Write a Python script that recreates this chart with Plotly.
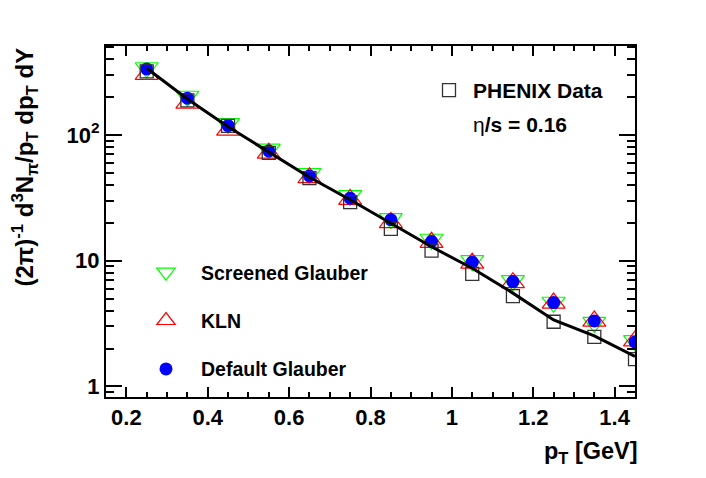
import plotly.graph_objects as go

# ---------------- data ----------------
pt = [0.25, 0.35, 0.45, 0.55, 0.65, 0.75, 0.85, 0.95, 1.05, 1.15, 1.25, 1.35, 1.45]
phenix = [320, 188, 118, 72, 45.3, 29.2, 17.9, 12.0, 7.85, 5.22, 3.27, 2.48, 1.65]
default_glauber = [335, 196, 118.6, 74.6, 47.2, 31.4, 21.2, 14.2, 9.73, 6.82, 4.64, 3.32, 2.26]
kln = [303, 179, 109, 71.6, 45.7, 30.7, 20.1, 14.0, 9.55, 6.68, 4.60, 3.31, 2.30]
screened = [342, 203, 123, 77, 49.2, 32.9, 21.6, 14.8, 10.0, 6.93, 4.67, 3.23, 2.31]
hydro_line = [339, 193, 116, 73.6, 46.1, 30.5, 19.9, 12.9, 8.7, 5.52, 3.38, 2.52, 1.73]

y_tickvals = [1, 10, 100]
y_ticktext = ["1", "10", "10<sup>2</sup>"]
x_tickvals = [0.2, 0.4, 0.6, 0.8, 1.0, 1.2, 1.4]
x_ticktext = ["0.2", "0.4", "0.6", "0.8", "1", "1.2", "1.4"]

W, H = 706, 478
L, R, T, B = 106, 71, 46, 81
PW, PH = W - L - R, H - T - B
FONT = "Liberation Sans, Arial, Helvetica, sans-serif"


def px(xp):
    return (xp - L) / PW


def py(yp):
    return 1 - (yp - T) / PH


fig = go.Figure()

fig.add_trace(go.Scatter(
    x=pt, y=screened, mode="markers", name="Screened Glauber",
    marker=dict(symbol="triangle-down-open", size=20, color="#00ff00",
                line=dict(width=1.2, color="#00ff00")),
    legend="legend2", legendgroup="g1"))
fig.add_trace(go.Scatter(
    x=pt, y=kln, mode="markers", name="KLN",
    marker=dict(symbol="triangle-up-open", size=20, color="#ff0000",
                line=dict(width=1.2, color="#ff0000")),
    legend="legend2", legendgroup="g2"))
fig.add_trace(go.Scatter(
    x=pt, y=default_glauber, mode="markers", name="Default Glauber",
    marker=dict(symbol="circle", size=13, color="#0000ff",
                line=dict(width=0)),
    legend="legend2", legendgroup="g3"))
fig.add_trace(go.Scatter(
    x=pt, y=phenix, mode="markers", name="PHENIX Data",
    marker=dict(symbol="square-open", size=13, color="#333333",
                line=dict(width=1.3, color="#333333")),
    legend="legend"))
fig.add_trace(go.Scatter(
    x=pt, y=hydro_line, mode="lines", showlegend=False,
    line=dict(color="black", width=3)))

axis_common = dict(
    showline=True, linecolor="black", linewidth=2, mirror="allticks",
    ticks="inside", tickcolor="black", tickwidth=2,
    showgrid=False, zeroline=False,
    tickfont=dict(family=FONT, size=22, color="black", weight="bold"),
)

fig.update_xaxes(
    range=[0.15, 1.45], tickvals=x_tickvals, ticktext=x_ticktext, ticklen=10,
    minor=dict(ticks="inside", ticklen=5, dtick=0.05, tick0=0.2,
               tickcolor="black", tickwidth=2, showgrid=False),
    **axis_common)
fig.update_yaxes(
    type="log", range=[-0.084, 2.707], tickvals=y_tickvals, ticktext=y_ticktext,
    ticklen=16,
    minor=dict(ticks="inside", ticklen=8, dtick="D1",
               tickcolor="black", tickwidth=2, showgrid=False),
    **axis_common)

fig.update_layout(
    width=W, height=H,
    margin=dict(l=L, r=R, t=T, b=B, autoexpand=False),
    paper_bgcolor="white", plot_bgcolor="white",
    showlegend=True,
    legend=dict(x=px(425), y=py(70), xanchor="left", yanchor="top",
                font=dict(family=FONT, size=21, color="black", weight="bold"),
                bgcolor="rgba(0,0,0,0)", itemwidth=38),
    legend2=dict(x=px(131), y=py(253), xanchor="left", yanchor="top",
                 font=dict(family=FONT, size=19.5, color="black", weight="bold"),
                 bgcolor="rgba(0,0,0,0)", itemwidth=60, tracegroupgap=20),
    annotations=[
        dict(text="η<b>/s = 0.16</b>", xref="paper", yref="paper",
             x=px(471), y=py(124),
             xanchor="left", yanchor="middle", showarrow=False,
             font=dict(family=FONT, size=21, color="black")),
        dict(text="<b>(2π)<sup>-1</sup> d<sup>3</sup>N<sub>π</sub>/p<sub>T</sub> dp<sub>T</sub> dY</b>",
             xref="paper", yref="paper", x=px(24), y=py(46),
             xanchor="center", yanchor="top", textangle=-90, showarrow=False,
             font=dict(family=FONT, size=24, color="black")),
        dict(text="<b>p<sub>T</sub> [GeV]</b>", xref="paper", yref="paper",
             x=px(640), y=py(452), xanchor="right", yanchor="middle",
             showarrow=False, font=dict(family=FONT, size=23.5, color="black")),
    ],
)

fig.write_html("out.html", config={"displayModeBar": False},
               post_script="document.body.style.margin='0';")
